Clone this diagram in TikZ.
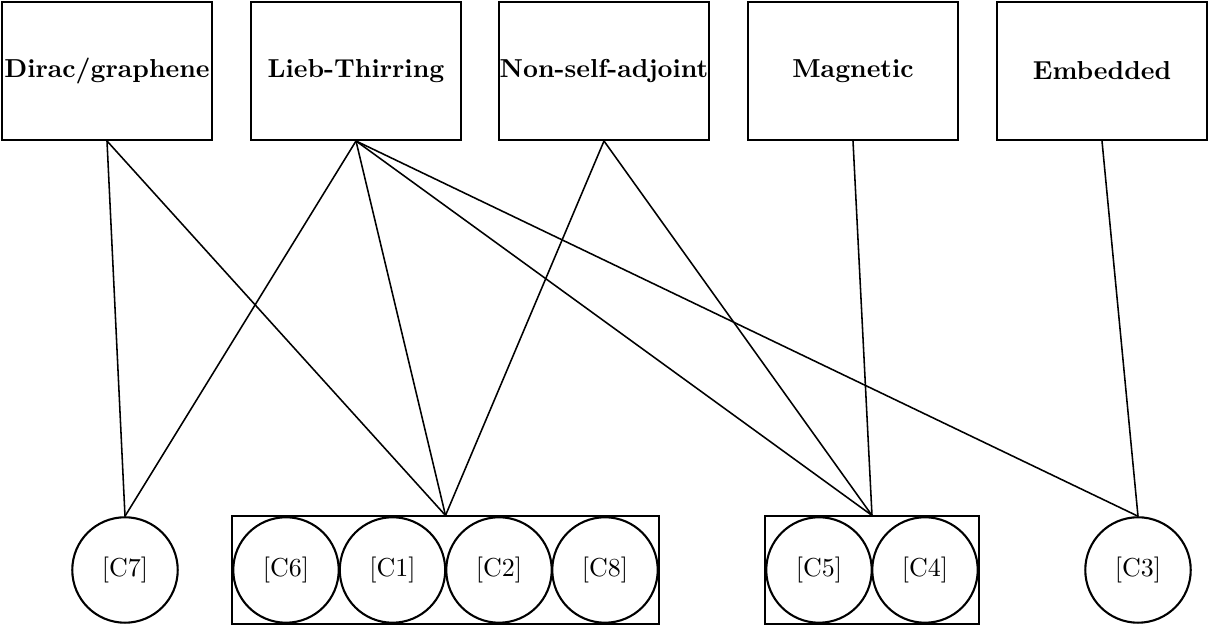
\documentclass[tikz,border=0pt]{standalone}
\usepackage{tikz}
\usetikzlibrary{fit,positioning}

\begin{document}
\begin{tikzpicture}[x=0.385pt,y=0.385pt,
        topic/.style={draw=black,thick,minimum width=80.8pt,minimum height=53.1pt,inner sep=0pt,font=\bfseries},
        cite/.style={draw=black,thick,circle,minimum size=40.6pt,inner sep=0pt},
        group/.style={draw=black,semithick,inner sep=0pt}]
        \useasboundingbox (0,0) rectangle (1209,625);
        % topics
        \node[topic] (dirac) at (107,554) {Dirac/graphene};
        \node[topic] (lieb) at (356,554) {Lieb-Thirring};
        \node[topic] (nsa) at (604,554) {Non-self-adjoint};
        \node[topic] (magn) at (853,554) {Magnetic};
        \node[topic] (emb) at (1102,554) {Embedded};
        % citations
        \node[cite] (c7) at (125,55) {[C7]};
        \node[cite] (c6) at (286,55) {[C6]};
        \node[cite] (c1) at (392.5,55) {[C1]};
        \node[cite] (c2) at (499,55) {[C2]};
        \node[cite] (c8) at (605,55) {[C8]};
        \node[cite] (c5) at (819,55) {[C5]};
        \node[cite] (c4) at (925,55) {[C4]};
        \node[cite] (c3) at (1138,55) {[C3]};
        % groups
        \node[group,fit=(c6)(c8)] (ga) {};
        \node[group,fit=(c5)(c4)] (gb) {};
        % links
        \draw[semithick] (dirac.south) -- (c7.north);
        \draw[semithick] (dirac.south) -- (ga.north);
        \draw[semithick] (lieb.south) -- (c7.north);
        \draw[semithick] (lieb.south) -- (ga.north);
        \draw[semithick] (lieb.south) -- (gb.north);
        \draw[semithick] (lieb.south) -- (c3.north);
        \draw[semithick] (nsa.south) -- (ga.north);
        \draw[semithick] (nsa.south) -- (gb.north);
        \draw[semithick] (magn.south) -- (gb.north);
        \draw[semithick] (emb.south) -- (c3.north);
      \end{tikzpicture}
\end{document}
